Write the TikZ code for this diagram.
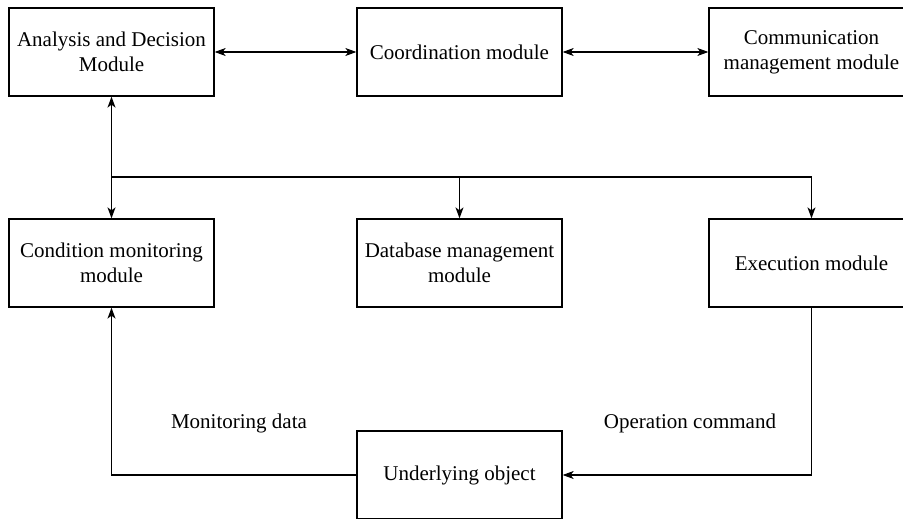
\documentclass[tikz,border=0pt]{standalone}
\usepackage{fontspec}
\setmainfont{Liberation Serif}
\usetikzlibrary{arrows.meta}
\begin{document}
\begin{tikzpicture}[x=1pt,y=-1pt,
  box/.style={draw,line width=1.3pt,minimum width=205pt,minimum height=88pt,inner sep=0pt,align=center,font=\fontsize{21}{25}\selectfont},
  lbl/.style={font=\fontsize{21}{25}\selectfont,inner sep=0pt},
  conn/.style={line width=1.1pt},
  tip/.style={-{Stealth[length=11pt,width=8pt,inset=3pt]}},
  dtip/.style={{Stealth[length=11pt,width=8pt,inset=3pt]}-{Stealth[length=11pt,width=8pt,inset=3pt]}}]
\useasboundingbox (0,0) rectangle (903,519);
\node[box] (ad) at (111.5,52) {Analysis and Decision\\Module};
\node[box] (co) at (459.5,52) {Coordination module};
\node[box] (cm) at (811.5,52) {Communication\\management module};
\node[box] (cmo) at (111.5,263) {Condition monitoring\\module};
\node[box] (db) at (459.5,263) {Database management\\module};
\node[box] (ex) at (811.5,263) {Execution module};
\node[box] (uo) at (459.5,475) {Underlying object};
\node[lbl] (md) at (239,423) {Monitoring data};
\node[lbl] (oc) at (690,423) {Operation command};
\coordinate (j) at (111.5,177);
\coordinate (bl) at (111.5,475);
\coordinate (br) at (811.5,475);
\draw[conn,dtip] (ad.east) -- (co.west);
\draw[conn,dtip] (co.east) -- (cm.west);
\draw[conn,dtip] (ad.south) -- (cmo.north);
\draw[conn] (j) -- (j -| ex.north);
\draw[conn,tip] (j -| db.north) -- (db.north);
\draw[conn,tip] (j -| ex.north) -- (ex.north);
\draw[conn,tip] (uo.west) -- (bl) -- (cmo.south);
\draw[conn,tip] (ex.south) -- (br) -- (uo.east);
\end{tikzpicture}
\end{document}
